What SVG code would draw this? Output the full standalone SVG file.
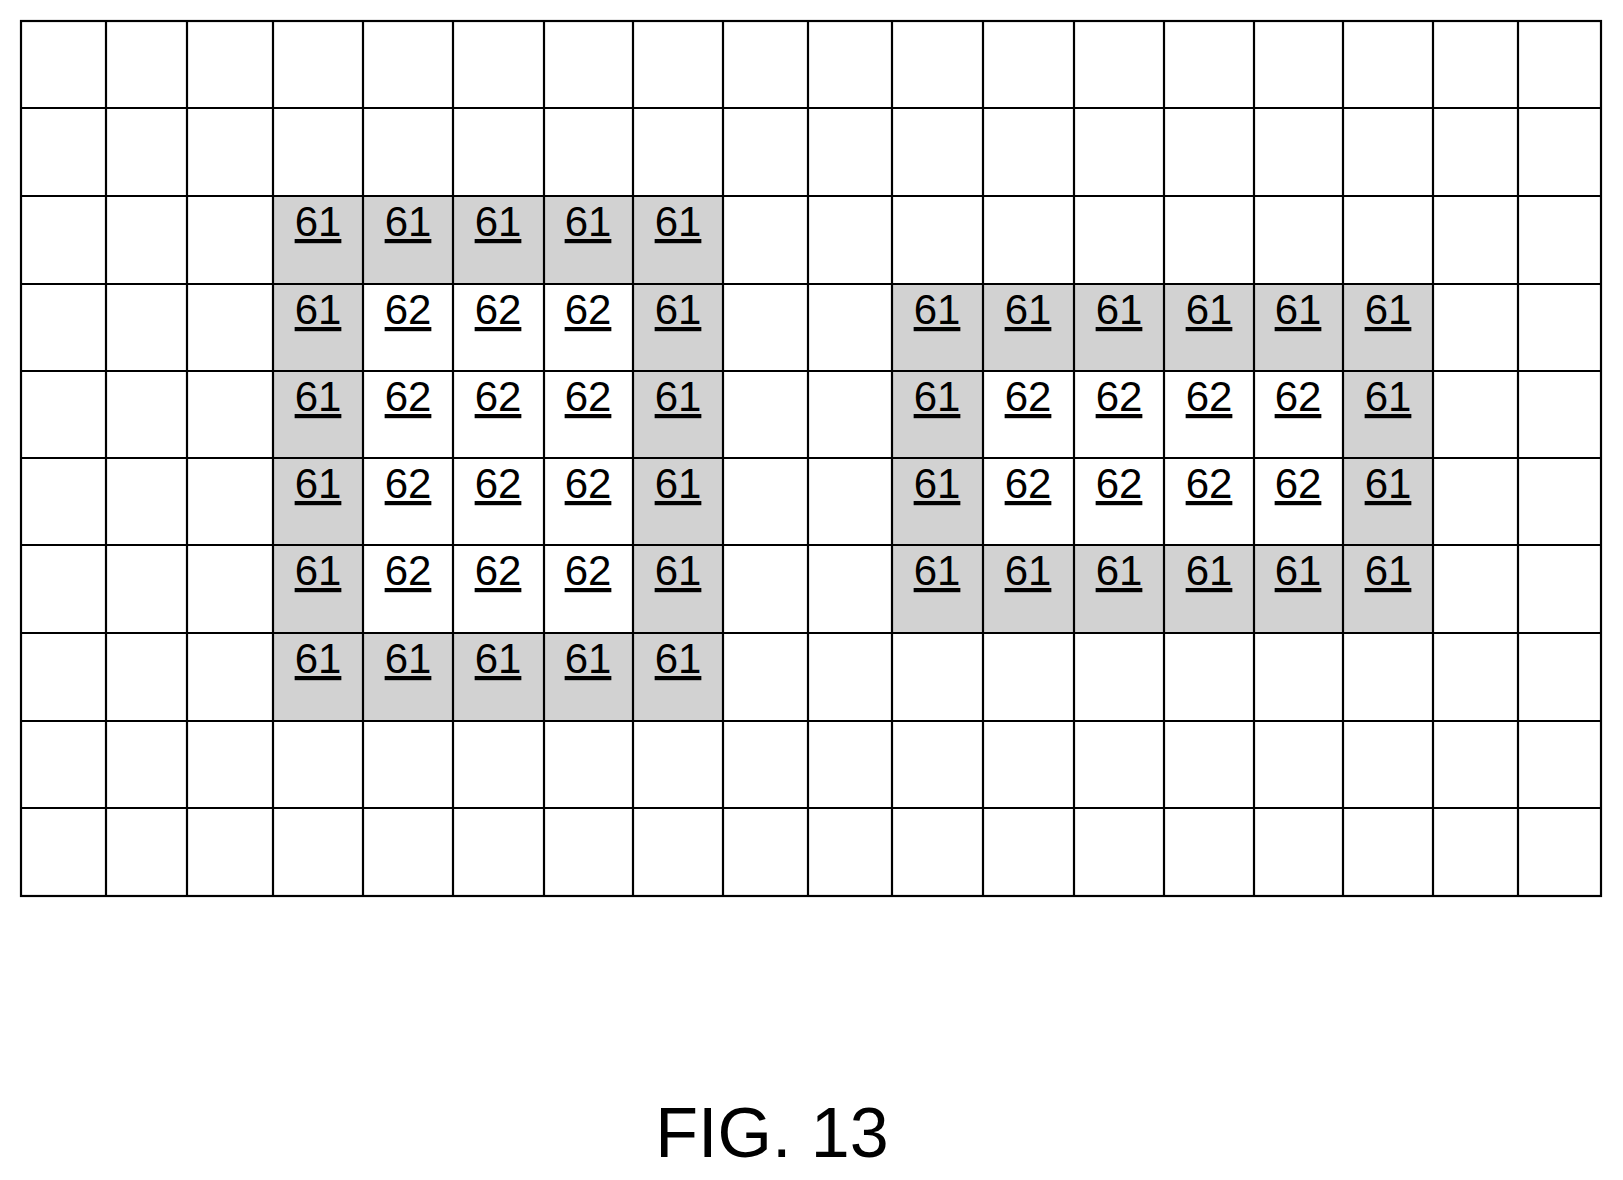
<svg xmlns="http://www.w3.org/2000/svg" width="1623" height="1180" viewBox="0 0 1623 1180">
<style>
.s{fill:#d2d2d2}
.g{stroke:#000;stroke-width:2.2;fill:none}
.t{font-family:"Liberation Sans",Arial,sans-serif;font-size:42px;text-anchor:middle;text-decoration:underline;fill:#000}
.f{font-family:"Liberation Sans",Arial,sans-serif;font-size:70px;text-anchor:middle;fill:#000}
</style>
<rect width="1623" height="1180" fill="#fff"/>
<g id="shading">
<rect class="s" x="273" y="196" width="450" height="525"/>
<rect fill="#fff" x="363" y="284" width="270" height="349"/>
<rect class="s" x="892" y="284" width="541" height="349"/>
<rect fill="#fff" x="983" y="371" width="360" height="174"/>
</g>
<g id="grid" class="g">
<rect x="21" y="21" width="1580" height="875"/>
<path d="M106 21V896M187 21V896M273 21V896M363 21V896M453 21V896M544 21V896M633 21V896M723 21V896M808 21V896M892 21V896M983 21V896M1074 21V896M1164 21V896M1254 21V896M1343 21V896M1433 21V896M1518 21V896"/>
<path d="M21 108H1601M21 196H1601M21 284H1601M21 371H1601M21 458H1601M21 545H1601M21 633H1601M21 721H1601M21 808H1601"/>
</g>
<g id="labels-left" class="t">
<text x="318" y="236">61</text><text x="408" y="236">61</text><text x="498" y="236">61</text><text x="588" y="236">61</text><text x="678" y="236">61</text>
<text x="318" y="324">61</text><text x="408" y="324">62</text><text x="498" y="324">62</text><text x="588" y="324">62</text><text x="678" y="324">61</text>
<text x="318" y="411">61</text><text x="408" y="411">62</text><text x="498" y="411">62</text><text x="588" y="411">62</text><text x="678" y="411">61</text>
<text x="318" y="498">61</text><text x="408" y="498">62</text><text x="498" y="498">62</text><text x="588" y="498">62</text><text x="678" y="498">61</text>
<text x="318" y="585">61</text><text x="408" y="585">62</text><text x="498" y="585">62</text><text x="588" y="585">62</text><text x="678" y="585">61</text>
<text x="318" y="673">61</text><text x="408" y="673">61</text><text x="498" y="673">61</text><text x="588" y="673">61</text><text x="678" y="673">61</text>
</g>
<g id="labels-right" class="t">
<text x="937" y="324">61</text><text x="1028" y="324">61</text><text x="1119" y="324">61</text><text x="1209" y="324">61</text><text x="1298" y="324">61</text><text x="1388" y="324">61</text>
<text x="937" y="411">61</text><text x="1028" y="411">62</text><text x="1119" y="411">62</text><text x="1209" y="411">62</text><text x="1298" y="411">62</text><text x="1388" y="411">61</text>
<text x="937" y="498">61</text><text x="1028" y="498">62</text><text x="1119" y="498">62</text><text x="1209" y="498">62</text><text x="1298" y="498">62</text><text x="1388" y="498">61</text>
<text x="937" y="585">61</text><text x="1028" y="585">61</text><text x="1119" y="585">61</text><text x="1209" y="585">61</text><text x="1298" y="585">61</text><text x="1388" y="585">61</text>
</g>
<text class="f" x="772" y="1157">FIG. 13</text>
</svg>
